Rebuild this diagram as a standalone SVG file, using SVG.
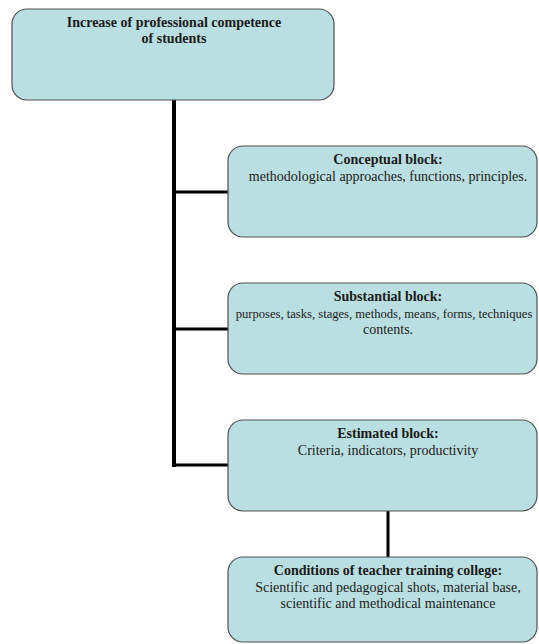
<svg xmlns="http://www.w3.org/2000/svg" width="539" height="644" viewBox="0 0 539 644">
<style>
.box{fill:#badfe2;stroke:#505050;stroke-width:1.2}
.t{font-family:'Liberation Serif','Times New Roman',Times,'DejaVu Serif',serif;font-size:14px;fill:#1a1a1a;text-anchor:middle}
.b{font-weight:bold}
.c{stroke:#000;fill:none;stroke-linecap:butt}
</style>
<rect width="539" height="644" fill="#fff"/>
<g id="connectors">
<line class="c" x1="174" y1="100" x2="174" y2="467" stroke-width="4"/>
<line class="c" x1="174" y1="192" x2="228" y2="192" stroke-width="3"/>
<line class="c" x1="174" y1="329" x2="228" y2="329" stroke-width="3"/>
<line class="c" x1="172" y1="465" x2="228" y2="465" stroke-width="3"/>
<line class="c" x1="388" y1="511" x2="388" y2="557" stroke-width="3"/>
</g>
<g id="node-top">
<rect class="box" x="12" y="9" width="322" height="91" rx="15"/>
<text class="t b" x="174" y="27">Increase of professional competence</text>
<text class="t b" x="174" y="43">of students</text>
</g>
<g id="node-conceptual">
<rect class="box" x="228" y="146" width="309" height="91" rx="15"/>
<text class="t b" x="388" y="164">Conceptual block:</text>
<text class="t" x="388" y="181">methodological approaches, functions, principles.</text>
</g>
<g id="node-substantial">
<rect class="box" x="228" y="283" width="309" height="91" rx="15"/>
<text class="t b" x="388" y="301">Substantial block:</text>
<text class="t" x="384" y="318" style="font-size:12.6px">purposes, tasks, stages, methods, means, forms, techniques</text>
<text class="t" x="388" y="334">contents.</text>
</g>
<g id="node-estimated">
<rect class="box" x="228" y="420" width="309" height="91" rx="15"/>
<text class="t b" x="388" y="438">Estimated block:</text>
<text class="t" x="388" y="455">Criteria, indicators, productivity</text>
</g>
<g id="node-conditions">
<rect class="box" x="228" y="557" width="309" height="85" rx="15"/>
<text class="t b" x="388" y="575">Conditions of teacher training college:</text>
<text class="t" x="388" y="592">Scientific and pedagogical shots, material base,</text>
<text class="t" x="388" y="608">scientific and methodical maintenance</text>
</g>
</svg>
